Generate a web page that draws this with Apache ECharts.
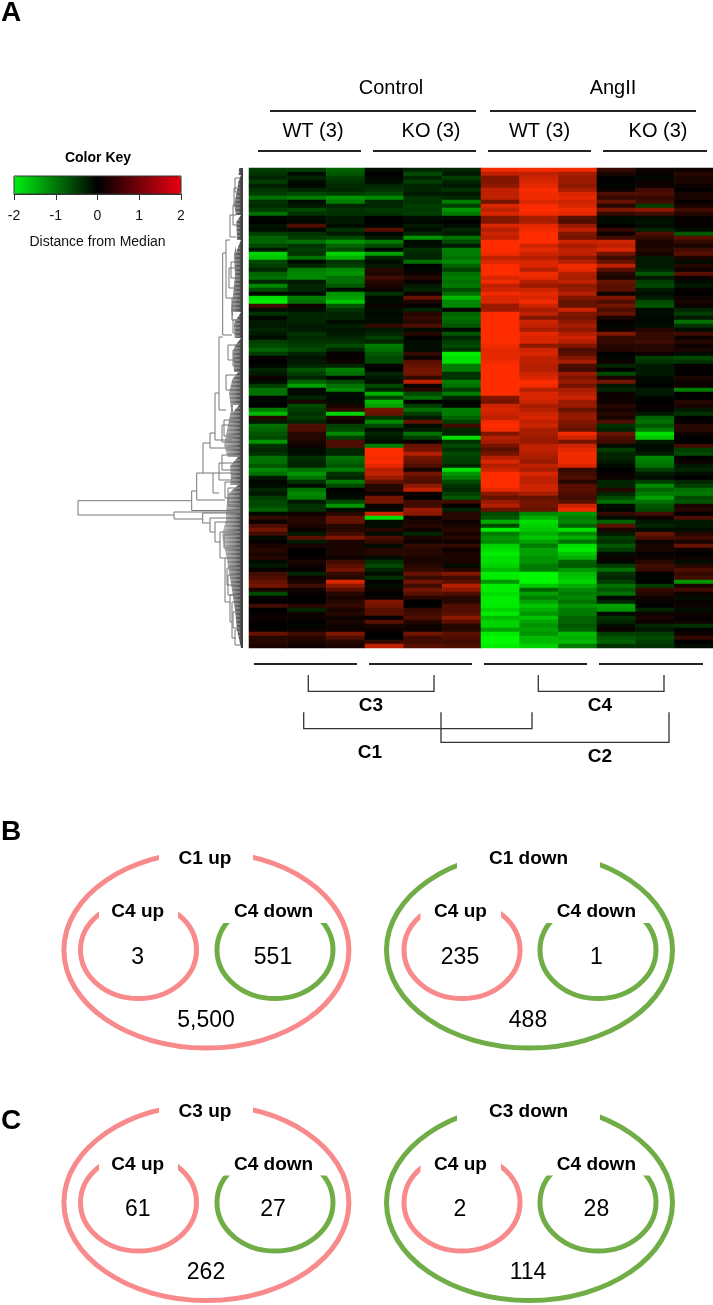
<!DOCTYPE html>
<html>
<head>
<meta charset="utf-8">
<style>
    html, body { margin: 0; padding: 0; background: #fff; }
    #chart { width: 713px; height: 1305px; }
</style>
<script src="https://cdn.jsdelivr.net/npm/echarts@6/dist/echarts.min.js"></script>
</head>
<body>
<div id="chart"></div>
<script>
// heatmap columns, distance from median, top row first, 4 px bands
const ctrlWt1 = [
    -.5,-.4,-.3,-.5,-.25,-.4,-.5,-.9,-.4,-.35,-.5,-.9,-.05,0,-.15,-.1,-.5,-.8,-.8,-.6,-.2,-1.7,-1.6,-.6,
    -.5,-.3,-.8,-.9,-.3,-1.1,-.6,-.05,-1.8,-1.9,.5,-.1,-.4,-.05,-.2,-.2,-.3,-.2,-.1,-.5,-.6,-.8,-.5,.05,
    0,-.05,-.3,-.2,.1,-.1,-.5,-.9,-.9,0,-.05,0,-1,-1.5,.3,-.2,-.9,-.8,-.7,-.6,-1.2,-.4,-.3,-.4,
    -.9,-.9,-.7,-1.1,-.9,-.2,-.05,-.1,-.3,-.2,-.5,-.6,-.6,-.8,-.1,.4,.1,.6,.9,.5,-.1,.05,.2,.3,
    .2,.3,-.1,-.2,.05,.5,.6,.8,.9,.2,-.6,.05,0,.5,0,.05,.1,.05,0,.05,.8,.3,.3,.2
];
const ctrlWt2 = [
    -.5,-.1,-.3,-.1,-.05,-.3,-.6,-1,-.1,-.2,-.6,-.4,-.1,-.05,.6,-.05,-.4,-.5,-.9,-.4,-.5,-.4,-.9,-.1,
    -.3,-1,-1.1,-1.1,-.2,-.3,-.3,-.1,-1,-.9,.1,-.1,-.3,-.3,-.3,-.2,-.2,-.4,-.35,-.4,-.5,-.6,-.3,-.15,
    -.2,-.3,-.7,-.5,-.3,-.8,-1.3,-.05,-.1,-.3,.2,-.6,-.5,-.4,-.5,-.3,.6,.6,.3,.3,.2,.1,-.1,-.1,
    -.4,-.3,-.3,-.9,-1.2,-.9,-.4,-.1,-.9,-1.1,-1,-.2,-.4,-.4,.1,.3,.3,.2,.1,-.2,.7,-.2,.2,0,
    0,.05,.2,.1,.05,-.3,.1,.2,.5,.1,.05,0,0,.3,-.3,.1,.1,0,-.05,.1,.5,.3,.2,.1
];
const ctrlWt3 = [
    -.8,-.7,-.5,-.4,-.35,-.3,-.5,-1.2,-1,-.3,-.4,-.4,-.2,-.2,-.1,-.4,-.2,-.6,-1.2,-.8,-.6,-1.7,-1.4,-.4,
    -.5,-1.1,-1.2,-.9,-.9,-.7,-.1,-1.2,-1.3,-1.6,-.7,-.4,-.3,-.3,-.1,-.25,-.15,-.2,-.3,-.4,-.6,-.3,.05,.05,
    .1,-.3,-1,-.9,-.05,-.6,-.9,-1.1,-.1,-.05,-.1,.2,.4,-1.7,.2,.1,-.5,-.6,-1.1,-.5,.6,.6,-.3,-.3,
    -.9,-.8,-.7,-1,-.4,-.3,-1,-.6,0,-.05,-.1,-.6,-1.2,-.1,.3,.8,.8,.3,.3,.5,1,.2,.2,.2,
    .2,.1,.5,.7,.9,.4,.3,1.7,1.1,.7,.3,.2,.3,.4,.2,.3,.1,.2,.1,.1,1,.6,.3,.2
];
const ctrlKo1 = [
    -.1,0,-.05,-.1,-.3,-.4,-.6,-1.1,-.3,-.3,-.45,-.4,.02,0,-.05,.7,-.05,-.2,-1,-.6,-.05,-1.3,-.3,-.1,
    -.2,.3,.25,.5,.3,.2,.1,-.4,-.1,-.1,.1,-.1,-.05,-.1,-.1,.4,-.2,-.3,-.5,-.3,-1,-.9,-.7,-.6,
    -.6,.05,0,-.3,-.2,-.1,-.6,-.3,-1.4,-.5,-1.5,-1.3,.9,.8,-.4,-1.1,-.6,-.1,-.3,-.2,-.1,-1,2,2,
    1.9,2,1.8,1.4,1.5,1.2,.8,.3,.3,.1,.9,.9,.1,-.1,1.6,-1.8,-.1,-.1,.3,-.1,.6,.4,-.1,.3,
    .3,-.1,-.4,-.6,-.3,-.1,-.4,0,-.1,.1,0,.1,1,.9,.7,.7,.05,.7,.2,.1,0,0,.4,1.5
];
const ctrlKo2 = [
    -.3,-.6,-.3,-.5,-.3,-.3,-.2,-.4,-.4,-.5,-.45,-.5,-.1,-.05,-.2,-.1,-.3,-1.2,-.1,-.1,-.4,-.3,-.3,-.9,
    0,-.05,.1,.3,.05,-.2,-.3,.1,.8,.2,.05,-.3,.3,.4,.3,.6,-.1,.3,0,-.1,-.1,-.1,.4,.1,
    .7,.8,.9,.9,.4,1.5,.1,.3,-.6,-.9,0,-.5,-.9,-.5,-.2,.8,-.1,-.2,-.9,-.5,.05,.8,.9,1.4,
    .9,.8,.6,.2,.9,.7,.6,1.1,1.5,.1,0,.5,.5,1.2,1.1,.1,.2,.3,.1,-.3,.2,.1,.4,.3,
    .3,.2,.2,.3,.4,.8,.4,.9,.5,.9,.7,.3,0,0,.4,.5,.6,.3,.1,.1,.9,.5,.5,.7
];
const ctrlKo3 = [
    -.3,-.2,-.5,-.3,-.2,-.4,-.2,-.3,-1,-.5,-1.2,-1,-.1,0,-.1,-.3,-.2,-.9,-.6,-.2,-1,-1,-.9,-1.1,
    -.8,-.5,-.9,-1,-.9,-1,-.6,-.9,-1.5,-1.1,-1.1,.05,-.8,-.9,-.8,-.7,-.1,-.7,-.3,-.5,-.6,-.4,-1.9,-1.8,
    -1.8,-1,-1,-.4,-.4,-1,-.9,-.5,-1,-.3,-.05,-.05,-1,-1,-.8,-.5,.5,-.3,-.3,-1.8,-.4,-.6,-.4,-.6,
    -.5,-.5,-.3,-1.8,-1.2,-1,-.6,-.4,-.3,-.5,-.7,.5,.05,-.3,.3,.3,.1,.2,.3,.2,.3,.1,.4,.1,
    .2,.2,.2,-.1,.3,1,.5,.7,1.4,1.1,.6,.3,.3,.6,.6,.7,1.1,.7,.3,.3,.7,.6,.5,.6
];
const angWt1 = [
    1.9,1.5,1,1,1.1,1.5,1.5,1.5,.9,1.7,1.5,1.7,1,1,1.7,1.4,1.6,1.5,2,2,2,1.9,1.5,1.7,
    2,2,2,1.7,1.9,1.5,1.6,1.9,1.7,1.7,1.2,1.2,2,2,2,2,2,2,2,2,1.9,1.8,1.8,1.8,
    1.9,2,2,2,2,2,2,2,2,1,.9,1.6,1.7,1.6,1.5,1.9,2,1.9,1,1.4,1.3,.9,.7,.9,
    1.4,1.7,1.4,1.6,2,2,2,2,1.8,1.1,.8,1.2,1.4,.8,-.6,-.7,-1.4,-.6,-1.9,-1,-1.2,-1.1,-1.7,-1.8,
    -1.9,-1.8,-1.8,-1.7,-1.5,-1.9,-1.9,-1.2,-1.9,-1.9,-1.8,-1.9,-1.9,-1.9,-1.7,-1.9,-1.5,-1.7,-1.7,-1.3,-1.9,-2,-2,-1.9
];
const angWt2 = [
    1.9,1.5,1.6,1.7,1.8,1.95,1.9,1.9,1.7,1.95,2,1.9,1.3,1.3,1.8,1.9,2,2,2,1.6,1.8,1.6,1.4,1.7,
    1.7,1.4,1.9,1.8,1.4,1.2,1.6,1.8,1.7,1.9,1.6,1.3,1.5,1,1.6,1.5,1.3,1.8,1.7,1.7,1.1,1.6,1.7,1.5,
    1.5,1.4,1.4,1.6,1.7,2,1.9,1.4,1.7,1.7,1.6,1.3,1.4,1.6,1.7,1.5,1.6,1.3,1.3,1.2,1.2,1.5,1.5,1.4,
    1.3,1.2,1.5,1.3,1.7,1.5,1.5,1.6,1.6,1.3,.8,.9,.9,.8,-1.1,-1.4,-1.8,-1.7,-1.6,-1.4,-1.6,-1.3,-1,-1.3,
    -1.3,-1.2,-1.2,-1,-1,-2,-2,-2,-1.6,-.8,-1.3,-1,-1.3,-1.6,-1.4,-1.2,-1.6,-1.3,-1.2,-1.3,-1.2,-1.5,-1.5,-1.7
];
const angWt3 = [
    1.9,1.3,1.2,1.2,1.1,1.3,1.7,1.8,1.6,1.7,1.9,1.8,.7,.6,1.2,1.5,1,.9,1.6,1.3,1.5,1.5,1.1,1.4,
    1.9,1.8,1.4,1.3,1.5,1.1,1.2,1.4,1,.8,.8,1.6,1,.9,1.1,1.3,1.1,1.4,1.6,1.4,1,.6,.7,1,
    1.3,.6,.5,1.2,1,1.2,.9,1.3,1.4,1.6,1.2,1.2,.8,1.1,1.2,1,.9,.8,1.9,1.6,.9,1.6,1.8,1.9,
    1.9,1.9,1.7,.4,.5,.6,.3,.7,.7,.6,.5,.7,1.6,1.9,-1.2,-1,-1.1,-.8,-1.8,-1.1,-1.4,-.9,-1.8,-1.9,
    -1.6,-1.4,-.8,-.7,-1.2,-1.5,-1.6,-1.7,-1.4,-1.1,-1,-1.1,-.9,-1.2,-1,-1,-.8,-.8,-.7,-.8,-1.5,-1.4,-1.5,-1
];
const angKo1 = [
    .4,.2,0,0,-.05,.1,.6,.4,.8,.3,1,.4,-.1,-.1,0,.4,.1,.5,1.6,1.5,1.7,.9,.5,.8,
    1.5,.7,.3,.2,.8,.7,.7,.1,1,.6,.9,.6,.8,.2,.05,-.05,.1,1,.4,.4,.3,.3,0,-.05,
    .1,-.3,0,-.6,.2,.9,-.2,-.3,.1,.1,.1,.3,.2,.3,.2,.6,-.4,-.3,.8,.6,.5,-.1,-.5,-.3,
    -.3,-.2,-.1,0,.05,.1,-.3,-.3,.3,-.3,-.6,-.9,-.1,-.05,.4,-.1,-.8,.7,.2,-.2,-.5,-.4,-.7,-.5,
    -.1,.1,-.05,-.5,-.9,-.4,-.3,-.5,-.9,-.7,-.9,-.05,-.3,-1.3,-1.2,-.05,-.4,-.3,-.1,.1,-.5,-.7,-.8,-.4
];
const angKo2 = [
    .1,.05,-.05,.1,.1,.5,.6,.4,.5,-.5,1.1,.5,-.1,-.15,-.1,-.3,.6,.4,.2,.2,.3,.2,-.2,-.2,
    -.2,-.3,-.7,-.2,-.5,-.6,-.2,-.1,-.2,-.6,-.7,-.1,-.1,-.05,-.05,-.1,.3,.4,.4,.5,.3,.3,.1,-.5,
    -.4,-.2,-.2,-.2,-.1,-.05,0,-.2,-.2,-.05,0,.05,.05,-.2,-.8,-.9,-.7,-1,-1.8,-1.6,-.2,-.1,-.1,-.2,
    -1.1,-1,-.9,-.5,-.2,-.1,-.5,-1.1,-.8,-1,-1.3,-.9,-.7,-.6,.5,.1,-.2,-.3,-.1,.8,.6,.1,.2,.2,
    .05,.1,.3,.5,.4,0,-.05,0,-.5,.4,.3,.1,.05,0,-.3,.1,.2,.1,-.3,-.2,-.5,-.6,-.5,-.4
];
const angKo3 = [
    .1,.3,.2,.2,.1,0,.2,.2,.05,.2,.5,.3,.05,.05,.05,-.1,-.7,.7,.4,.2,.5,.7,.2,-.1,
    .3,.1,.7,.1,-.1,-.2,.05,0,.1,.2,.1,-.3,-.5,-.2,-.9,-.4,-.1,.5,.1,.3,.1,.2,-.1,-.6,
    -.4,.05,.05,0,.2,.1,.1,-1,0,0,.3,.2,-.2,-.4,0,.05,.3,.3,.1,0,0,.5,-.5,-.6,
    0,.1,-.2,-.3,-.1,0,-.3,-.5,-.9,-1,-.6,-.7,.2,.3,0,.6,-.2,-.2,-.1,.3,.5,.2,.8,.1,
    0,.1,-.1,.3,.6,.4,.5,-1.2,.2,.5,.1,-.1,.05,.1,-.1,.1,.05,.1,-.4,0,.1,.4,0,-.1
];
const heatColumns = [ctrlWt1, ctrlWt2, ctrlWt3, ctrlKo1, ctrlKo2, ctrlKo3, angWt1, angWt2, angWt3, angKo1, angKo2, angKo3];

// colour key
const keyTicks = [-2, -1, 0, 1, 2];

// dendrogram: [x of merge, y top child, x top child, y bottom child, x bottom child]
const dendroBranches = [
    [78,500.7,191.7,515,174], [174,512,240,519,202.7], [191.7,491,196.7,510.5,240], [196.7,473,203,500,225],
    [203,443,210,473,213], [213,473,233,493,219], [210,433,215,448,235], [215,393,219,440,232],
    [219,337,222.7,410,226], [222.7,253,226,335,232], [226,240,230,298,232], [230,215,236,237,236],
    [232,298,236,320,236], [233,205,238,225,238], [219,463,236,480,232], [202.7,513,240,523,210],
    [210,518,236,532,215], [215,522,238,542,220], [220,532,236,558,225], [225,558,236,602,230],
    [230,595,238,622,232], [232,602,238,638,236], [228,345,238,360,236], [226,375,238,390,236],
    [231,262,240,278,240], [229,268,238,288,238], [233,320,238,333,238], [235,178,240,192,240],
    [234,188,240,205,240], [233,350,240,366,240], [224,420,236,436,236], [222,425,238,442,238],
    [222,455,238,470,238], [225,482,238,498,238], [228,488,240,505,240], [224,535,238,548,238],
    [227,568,238,585,238], [228,575,238,595,238], [233,612,240,628,240], [235,630,240,645,240]
];
// left edge of the dense twigs next to the heatmap: [y, x]
const dendroEdge = [
    [168,239],[185,238],[205,234],[215,236],[240,237],[255,234],[275,235],[295,233],[310,231],[325,234],
    [343,235],[355,233],[372,234],[393,229],[410,231],[430,227],[445,224],[465,230],[480,231],[495,228],
    [512,226],[520,226],[535,222],[560,227],[590,232],[610,235],[630,237],[648,241]
];
// white gaps in the twigs: [x left, y top, x right, y bottom]
const dendroNotches = [
    [237,175,241,185], [232,215,241,228], [236,240,241,252], [233,312,241,325],
    [234,338,241,347], [230,372,238,382], [220,457,238,477], [227,485,238,495], [233,405,239,412]
];

// header rules and brackets as point lists
const headerRules = [
    [[270,111],[476,111]], [[490,111],[696,111]],
    [[258,151],[361,151]], [[373,151],[476,151]], [[488,151],[591,151]], [[603,151],[707,151]],
    [[254,664],[357,664]], [[369,664],[472,664]], [[484,664],[587,664]], [[599,664],[703,664]]
];
const brackets = [
    [[308.3,675],[308.3,691.3],[434,691.3],[434,675]],
    [[538.3,675],[538.3,691.3],[664,691.3],[664,675]],
    [[303.7,712.3],[303.7,728.7],[532,728.7],[532,712.3]],
    [[441,712.3],[441,742.3],[669,742.3],[669,712.3]]
];

// ring panels
const panelShift = [0, 252.5];
const panelTitles = [['C1 up', 'C1 down'], ['C3 up', 'C3 down']];
const panelCounts = [[['3', '551', '5,500'], ['235', '1', '488']], [['61', '27', '262'], ['2', '28', '114']]];
const pink = '#f98a8c', green = '#70ad47';
// cx, cy, rx, ry, colour, white cut-out [x0, y0, x1, y1]; inner rings first so their cut-outs stay under the outer ones
const rings = [
    [138.5, 950, 58, 48.5, pink, [99, 893, 178, 925]],
    [275, 950, 58, 48.5, green, [216, 893, 334, 923]],
    [462, 950, 58, 48.5, pink, [420.5, 893, 501, 925]],
    [598, 950, 58, 48.5, green, [539, 893, 657, 923]],
    [206.4, 950, 142.5, 98, pink, [159, 840, 253, 866]],
    [529.5, 950, 143, 98, green, [457, 840, 600, 878]]
];

// text: string, x, y, size, bold
const labels = [
    ['A', 11, 13, 28, true], ['B', 11, 832, 28, true], ['C', 11, 1121, 28, true],
    ['Control', 391, 88, 20, false], ['AngII', 613, 88, 20, false],
    ['WT (3)', 313, 131, 20, false], ['KO (3)', 431, 131, 20, false],
    ['WT (3)', 539.5, 131, 20, false], ['KO (3)', 658, 131, 20, false],
    ['Color Key', 98, 158, 14, true],
    ['C3', 371, 706, 19, true], ['C4', 600, 706, 19, true],
    ['C1', 370, 753, 19, true], ['C2', 600, 757, 19, true]
];
panelShift.forEach(function (dy, p) {
    labels.push([panelTitles[p][0], 205, 859 + dy, 19, true], [panelTitles[p][1], 528.6, 859 + dy, 19, true]);
    [137.7, 273.6, 460.5, 596.4].forEach(function (x, i) {
        labels.push([i % 2 ? 'C4 down' : 'C4 up', x, 912 + dy, 19, true]);
    });
    labels.push([panelCounts[p][0][0], 137.7, 957.5 + dy, 23, false], [panelCounts[p][0][1], 273, 957.5 + dy, 23, false]);
    labels.push([panelCounts[p][1][0], 460, 957.5 + dy, 23, false], [panelCounts[p][1][1], 596.4, 957.5 + dy, 23, false]);
    labels.push([panelCounts[p][0][2], 206, 1020.5 + dy, 23, false], [panelCounts[p][1][2], 528, 1020.5 + dy, 23, false]);
});

const fontName = '"Liberation Sans", Arial, sans-serif';

let heatData = [];
heatColumns.forEach(function (col, x) {
    col.forEach(function (v, y) {
        heatData.push([x, y, v]);
    });
});

function overlay(data, renderItem) {
    return {
        type: 'custom',
        xAxisIndex: 1,
        yAxisIndex: 1,
        silent: true,
        clip: false,
        animation: false,
        data: data.map(function (d, i) { return [i]; }),
        renderItem: function (params, api) {
            return renderItem(data[params.dataIndex], api);
        }
    };
}

function lineEl(points, api, color, width) {
    return {
        type: 'polyline',
        shape: { points: points.map(function (p) { return api.coord(p); }) },
        style: { stroke: color, lineWidth: width, fill: null }
    };
}

let option = {
    backgroundColor: '#fff',
    animation: false,
    visualMap: [
        {
            type: 'continuous', seriesIndex: 0, min: -2, max: 2, dimension: 2, show: false,
            inRange: { color: ['#00f800', '#000000', '#ff2c00'] }
        },
        {
            type: 'continuous', seriesIndex: 1, min: -2, max: 2, show: true, orient: 'horizontal',
            left: 14, top: 176, itemWidth: 18, itemHeight: 167, padding: 0, text: null,
            calculable: false, hoverLink: false, z: 1,
            inRange: { color: ['#00f010', '#000000', '#ea0010'] }
        }
    ],
    grid: [
        { left: 249, top: 168, width: 464, height: 480 },
        { left: 0, top: 0, width: 713, height: 1305 },
        { left: 14, top: 176, width: 167, height: 18, show: true, z: 2, backgroundColor: 'transparent', borderColor: '#333', borderWidth: 1 }
    ],
    xAxis: [
        { type: 'category', gridIndex: 0, show: false, data: heatColumns.map(function (c, i) { return i; }) },
        { type: 'value', gridIndex: 1, show: false, min: 0, max: 713 },
        {
            type: 'value', gridIndex: 2, min: keyTicks[0], max: keyTicks[4], interval: 1,
            axisLine: { show: true, lineStyle: { color: '#333' } },
            axisTick: { show: true, length: 6, lineStyle: { color: '#333' } },
            splitLine: { show: false },
            axisLabel: { show: true, margin: 15, fontSize: 14, color: '#111', fontFamily: fontName, hideOverlap: false, showMinLabel: true, showMaxLabel: true },
            name: 'Distance from Median', nameLocation: 'middle', nameGap: 41,
            nameTextStyle: { fontSize: 14, color: '#111', fontFamily: fontName }
        }
    ],
    yAxis: [
        { type: 'category', gridIndex: 0, show: false, inverse: true, data: ctrlWt1.map(function (c, i) { return i; }) },
        { type: 'value', gridIndex: 1, show: false, inverse: true, min: 0, max: 1305 },
        { type: 'value', gridIndex: 2, show: false, min: 0, max: 1 }
    ],
    series: [
        { type: 'heatmap', xAxisIndex: 0, yAxisIndex: 0, data: heatData, progressive: 0, silent: true },
        { type: 'scatter', xAxisIndex: 2, yAxisIndex: 2, data: [], silent: true },
        overlay([dendroEdge], function (edge, api) {
            let pts = edge.map(function (e) { return api.coord([e[1], e[0]]); });
            pts.push(api.coord([243, 648]), api.coord([243, 168]));
            return {
                type: 'polygon',
                shape: { points: pts },
                style: {
                    fill: new echarts.graphic.LinearGradient(0, 0, 1, 0, [
                        { offset: 0, color: '#b5b5b5' }, { offset: 0.6, color: '#777' }, { offset: 1, color: '#3c3c3c' }
                    ])
                }
            };
        }),
        // fine twig hatching, one line per heatmap row
        overlay(ctrlWt1.map(function (v, i) { return i; }), function (i, api) {
            let y = 168 + i * 4;
            return lineEl([[214, y], [240, y]], api, 'rgba(255,255,255,0.45)', 1);
        }),
        overlay(dendroNotches, function (n, api) {
            return {
                type: 'polygon',
                shape: { points: [api.coord([n[0], n[1]]), api.coord([n[2], n[1]]), api.coord([n[0], n[3]])] },
                style: { fill: '#fff' }
            };
        }),
        overlay(dendroBranches, function (b, api) {
            return lineEl([[b[2], b[1]], [b[0], b[1]], [b[0], b[3]], [b[4], b[3]]], api, '#777', 1);
        }),
        overlay(headerRules, function (r, api) {
            return lineEl(r, api, '#222', 2);
        }),
        overlay(brackets, function (r, api) {
            return lineEl(r, api, '#333', 1.3);
        }),
        overlay(panelShift.reduce(function (all, dy) {
            rings.forEach(function (r) { all.push(r.concat(dy)); });
            return all;
        }, []), function (r, api) {
            let c = api.coord([r[0], r[1] + r[6]]);
            let m0 = api.coord([r[5][0], r[5][1] + r[6]]);
            let m1 = api.coord([r[5][2], r[5][3] + r[6]]);
            return {
                type: 'group',
                children: [
                    { type: 'ellipse', shape: { cx: c[0], cy: c[1], rx: r[2], ry: r[3] }, style: { stroke: r[4], lineWidth: 5, fill: null } },
                    { type: 'rect', shape: { x: m0[0], y: m0[1], width: m1[0] - m0[0], height: m1[1] - m0[1] }, style: { fill: '#fff' } }
                ]
            };
        }),
        overlay(labels, function (t, api) {
            let p = api.coord([t[1], t[2]]);
            return {
                type: 'text',
                style: {
                    text: t[0], x: p[0], y: p[1], align: 'center', verticalAlign: 'middle',
                    fontFamily: fontName, fontSize: t[3], fontWeight: t[4] ? 'bold' : 'normal', fill: '#000'
                }
            };
        })
    ]
};

let chart = echarts.init(document.getElementById('chart'), null, { renderer: 'canvas' });
chart.setOption(option);
</script>
</body>
</html>
